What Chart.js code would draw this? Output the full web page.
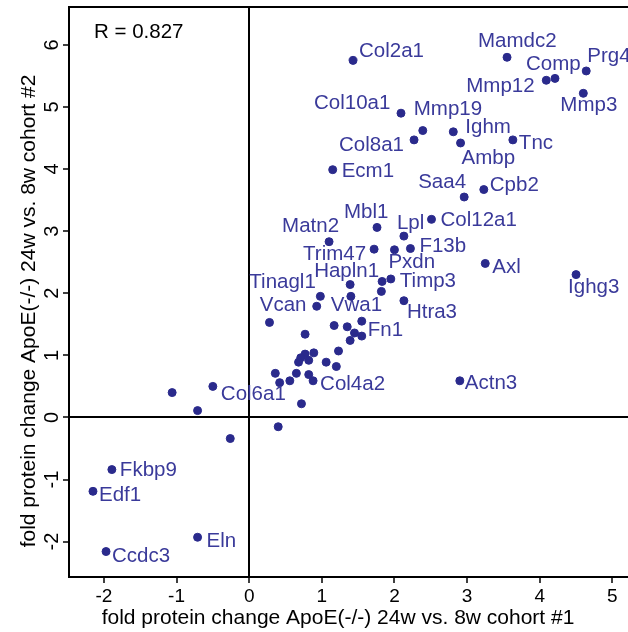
<!DOCTYPE html>
<html>
<head>
<meta charset="utf-8">
<script src="https://cdn.jsdelivr.net/npm/chart.js@4/dist/chart.umd.min.js"></script>
<style>
  html, body { margin: 0; padding: 0; background: #fff; overflow: hidden; }
  #wrap { width: 628px; height: 632px; }
</style>
</head>
<body>
<div id="wrap"><canvas id="myChart" width="628" height="632"></canvas></div>
<script>
// gene names ('' = unlabeled point)
const genes = ['Col2a1','Mamdc2','Mmp12','Comp','Prg4','Mmp3','Col10a1','Mmp19','Col8a1','Ighm',
  'Ambp','Tnc','Ecm1','Cpb2','Saa4','Mbl1','Lpl','Col12a1','Matn2','Trim47',
  'Pxdn','F13b','','Timp3','Hapln1','','Tinagl1','Vwa1','Vcan','Htra3',
  'Axl','Ighg3','','','','Fn1','','','','',
  '','','','','','','','','','',
  '','','','Col4a2','','Actn3','','Col6a1','','',
  '','Fkbp9','Edf1','Eln','Ccdc3'];
// cohort #1 fold change
const cohort1 = [1.43,3.55,4.09,4.21,4.64,4.60,2.09,2.39,2.27,2.81,
  2.91,3.63,1.15,3.23,2.96,1.76,2.13,2.51,1.10,1.72,
  2.00,2.22,1.83,1.95,1.39,1.82,0.98,1.40,0.93,2.13,
  3.25,4.50,0.28,1.17,1.35,1.55,1.45,1.55,1.39,0.77,
  0.89,0.77,0.71,0.82,0.68,1.23,1.06,1.20,0.36,0.65,
  0.82,0.56,0.42,0.88,0.72,2.90,-1.06,-0.50,-0.71,-0.26,
  0.40,-1.89,-2.15,-0.71,-1.97];
// cohort #2 fold change
const cohort2 = [5.75,5.80,5.43,5.46,5.58,5.22,4.90,4.62,4.47,4.60,
  4.42,4.47,3.99,3.67,3.55,3.06,2.92,3.19,2.83,2.71,
  2.70,2.72,2.19,2.23,2.14,2.03,1.95,1.95,1.79,1.88,
  2.48,2.30,1.53,1.48,1.46,1.55,1.36,1.31,1.24,1.34,
  1.04,1.02,0.96,0.92,0.89,1.07,0.89,0.82,0.71,0.71,
  0.69,0.59,0.56,0.59,0.22,0.59,0.40,0.50,0.11,-0.34,
  -0.15,-0.84,-1.19,-1.93,-2.16];
const xTicks = [-2, -1, 0, 1, 2, 3, 4, 5];
const yTicks = [-2, -1, 0, 1, 2, 3, 4, 5, 6];
const rValue = 'R = 0.827';
const xTitle = 'fold protein change ApoE(-/-) 24w vs. 8w cohort #1';
const yTitle = 'fold protein change ApoE(-/-) 24w vs. 8w cohort #2';

// label placement: [dx, dy] of text left / middle from the point
const labelOffsets = {
  Col2a1:[6,-9], Mamdc2:[-29,-16], Comp:[-29,-14], Prg4:[1,-15], Mmp12:[-80,6],
  Mmp3:[-23,12], Col10a1:[-87,-10], Mmp19:[-9,-21], Ighm:[12,-4], Ambp:[1,15],
  Tnc:[6,3], Col8a1:[-75,5], Ecm1:[9,2], Saa4:[-46,-15], Cpb2:[6,-4],
  Mbl1:[-33,-15], Lpl:[-7,-13], Col12a1:[9,1], Matn2:[-47,-15], F13b:[9,-2],
  Trim47:[-71,5], Pxdn:[-6,13], Hapln1:[-36,-13], Timp3:[9,2], Tinagl1:[-71,-14],
  Vcan:[-57,-1], Vwa1:[-20,9], Htra3:[3,12], Fn1:[6,9], Col4a2:[7,4],
  Col6a1:[8,8], Actn3:[5,3], Fkbp9:[8,1], Edf1:[6,4], Eln:[9,4], Ccdc3:[6,5],
  Axl:[7,4], Ighg3:[-8,13]
};

const dotColor = '#2a2a8c';
const textColor = '#3a3a9a';
const fontFam = 'Arial, "Liberation Sans", sans-serif';

const labelPlugin = {
  id: 'labels',
  afterDraw(chart) {
    const c = chart.ctx;
    const area = chart.chartArea;
    const meta = chart.getDatasetMeta(0);
    c.save();
    // top frame line
    c.strokeStyle = '#000';
    c.lineWidth = 2;
    c.beginPath();
    c.moveTo(area.left - 1, area.top);
    c.lineTo(area.right, area.top);
    c.stroke();
    // gene labels
    c.font = '20.5px ' + fontFam;
    c.fillStyle = textColor;
    c.textAlign = 'left';
    c.textBaseline = 'middle';
    genes.forEach((g, i) => {
      if (!g) return;
      const p = meta.data[i];
      const off = labelOffsets[g] || [6, 0];
      c.fillText(g, p.x + off[0], p.y + off[1]);
    });
    // R value
    c.fillStyle = '#000';
    c.fillText(rValue, area.left + 25, area.top + 25);
    // rotated y tick labels
    const ys = chart.scales.y;
    c.font = '20px ' + fontFam;
    c.textAlign = 'center';
    yTicks.forEach(v => {
      const py = ys.getPixelForValue(v);
      c.save();
      c.translate(52, py);
      c.rotate(-Math.PI / 2);
      c.fillText(String(v), 0, 0);
      c.restore();
    });
    // axis titles
    c.font = '21px ' + fontFam;
    c.textBaseline = 'alphabetic';
    c.fillText(xTitle, 338, 624);
    c.save();
    c.translate(35, 311);
    c.rotate(-Math.PI / 2);
    c.fillText(yTitle, 0, 0);
    c.restore();
    c.restore();
  }
};

const gridColor = (ctx) => (ctx.tick && ctx.tick.value === 0) ? '#000' : 'rgba(0,0,0,0)';

const ctx = document.getElementById('myChart').getContext('2d');
const chart = new Chart(ctx, {
  type: 'scatter',
  data: {
    datasets: [{
      data: cohort1.map((x, i) => ({ x: x, y: cohort2[i] })),
      backgroundColor: dotColor,
      borderColor: dotColor,
      pointRadius: 4,
      pointHoverRadius: 4,
      clip: false
    }]
  },
  options: {
    responsive: false,
    animation: false,
    events: [],
    layout: { autoPadding: false, padding: { top: 7, right: 0, left: 0, bottom: 0 } },
    plugins: { legend: { display: false }, tooltip: { enabled: false } },
    scales: {
      x: {
        type: 'linear',
        min: -2.48,
        max: 5.215,
        afterBuildTicks: (s) => { s.ticks = xTicks.map(v => ({ value: v })); },
        afterFit: (s) => { s.height = 55; s.paddingLeft = 0; s.paddingRight = 0; },
        grid: { color: gridColor, lineWidth: 2, tickColor: '#000', tickLength: 6, tickWidth: 1.5 },
        border: { color: '#000', width: 2 },
        ticks: { color: '#000', font: { family: fontFam, size: 19 }, padding: 2, maxRotation: 0 }
      },
      y: {
        type: 'linear',
        min: -2.57,
        max: 6.61,
        afterBuildTicks: (s) => { s.ticks = yTicks.map(v => ({ value: v })); },
        afterFit: (s) => { s.width = 69; s.paddingTop = 0; s.paddingBottom = 0; },
        grid: { color: gridColor, lineWidth: 2, tickColor: '#000', tickLength: 6, tickWidth: 1.5 },
        border: { color: '#000', width: 2 },
        ticks: { display: false }
      }
    }
  },
  plugins: [labelPlugin]
});
</script>
</body>
</html>
